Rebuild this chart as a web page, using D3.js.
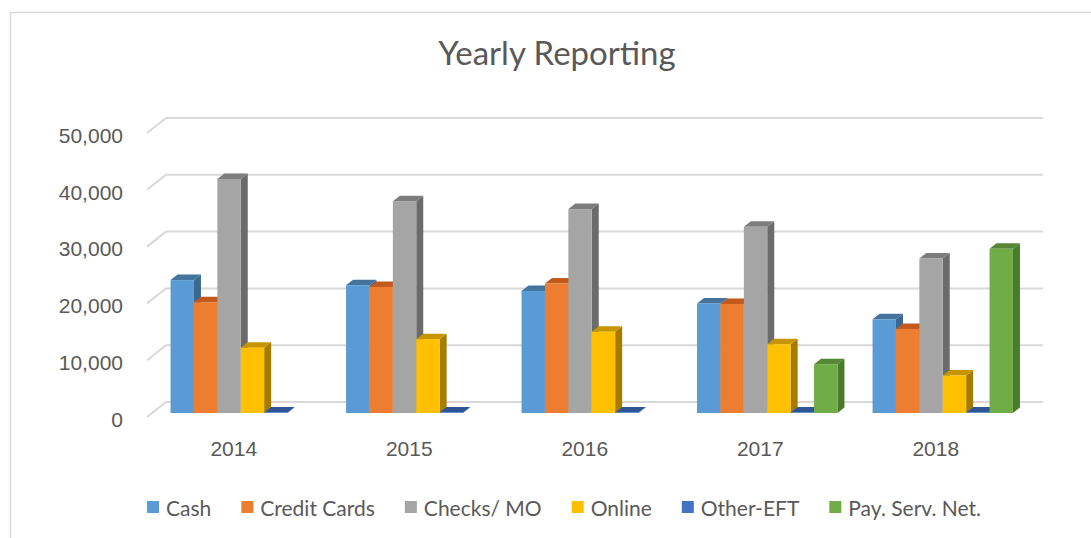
<!DOCTYPE html>
<html>
<head>
<meta charset="utf-8">
<script src="https://cdn.jsdelivr.net/npm/d3@7"></script>
<style>
  html, body { margin: 0; padding: 0; background: #fff; }
  svg { display: block; font-family: Lato, "Open Sans", sans-serif; }
</style>
</head>
<body>
<svg id="chart" width="1091" height="538"></svg>
<script>
// Payments received per year, by payment channel
const years = ["2014", "2015", "2016", "2017", "2018"];
const seriesNames = ["Cash", "Credit Cards", "Checks/ MO", "Online", "Other-EFT", "Pay. Serv. Net."];
const cash        = [23400, 22500, 21500, 19300, 16500];
const creditCards = [19500, 22200, 22800, 19200, 14800];
const checksMO    = [41200, 37300, 35900, 32800, 27200];
const online      = [11500, 13000, 14300, 12100, 6600];
const otherEFT    = [100, 100, 100, 100, 100];
const payServNet  = [null, null, null, 8600, 28900];
const yTicks      = [0, 10000, 20000, 30000, 40000, 50000];

const seriesValues = [cash, creditCards, checksMO, online, otherEFT, payServNet];

// front / top / side shades for each series
const faceColors = [
  { front: "#5b9bd5", top: "#44739e", side: "#3a6890" },
  { front: "#ed7d31", top: "#c25a1c", side: "#b0531c" },
  { front: "#a5a5a5", top: "#7d7d7d", side: "#6b6b6b" },
  { front: "#ffc000", top: "#c79500", side: "#a67c00" },
  { front: "#4472c4", top: "#2f5597", side: "#2b4e8c" },
  { front: "#70ad47", top: "#558735", side: "#4a7a2c" }
];

const svg = d3.select("#chart");
const textColor = "#595959";
const gridColor = "#d9d9d9";

// chart frame
svg.append("path")
  .attr("d", "M10.5,545 L10.5,12.5 L1100,12.5")
  .attr("fill", "none")
  .attr("stroke", gridColor)
  .attr("stroke-width", 1.5);

// title
svg.append("text")
  .attr("x", 557).attr("y", 57)
  .attr("text-anchor", "middle")
  .attr("dominant-baseline", "middle")
  .attr("font-size", 33)
  .attr("font-weight", 400)
  .attr("fill", textColor)
  .text("Yearly Reporting");

// scales: bar plane, back wall and front edge of the floor
const x = d3.scaleBand().domain(years).range([153, 1030.5]).padding(0);
const xs = d3.scaleBand().domain(seriesNames).range([0, x.bandwidth()])
  .paddingInner(0).paddingOuter(0.75);
const y = d3.scaleLinear().domain([0, 50000]).range([413, 129]);
const yBack = d3.scaleLinear().domain([0, 50000]).range([402, 118]);
const yFront = d3.scaleLinear().domain([0, 50000]).range([417, 133]);
const wallLeft = 166, wallRight = 1043, floorLeft = 147;
const DX = 7, DY = 5.5;

// gridlines: back wall plus side-wall stubs
const grid = svg.append("g").attr("stroke", gridColor).attr("stroke-width", 2).attr("fill", "none");
grid.selectAll("path").data(yTicks).join("path")
  .attr("d", v => `M${floorLeft},${yFront(v)} L${wallLeft},${yBack(v)} L${wallRight},${yBack(v)}`);

// y axis labels
const yAxis = svg.append("g")
  .attr("transform", "translate(126,2.5)")
  .call(d3.axisLeft(yFront).tickValues(yTicks).tickFormat(d3.format(",")).tickSize(0).tickPadding(3));
yAxis.select(".domain").remove();
yAxis.selectAll("text")
  .attr("font-family", null)
  .attr("font-size", 21)
  .attr("fill", textColor);

// x axis labels
const xAxis = svg.append("g")
  .attr("transform", "translate(-7,449)")
  .call(d3.axisBottom(x).tickSize(0).tickPadding(0));
xAxis.select(".domain").remove();
xAxis.selectAll("text")
  .attr("y", 0).attr("dy", "0.35em")
  .attr("font-family", null)
  .attr("font-size", 21)
  .attr("fill", textColor);

// 3-D columns
const bars = [];
years.forEach((yr, i) => {
  seriesNames.forEach((s, j) => {
    const v = seriesValues[j][i];
    if (v == null) return;
    bars.push({ yr, s, j, v });
  });
});

const barG = svg.append("g");
const bar = barG.selectAll("g.bar").data(bars).join("g").attr("class", "bar");

function pts(arr) { return arr.map(p => p.join(",")).join(" "); }

bar.each(function (d) {
  const g = d3.select(this);
  const x0 = x(d.yr) + xs(d.s);
  const x1 = x0 + xs.bandwidth();
  const yt = y(d.v), yb = y(0);
  const c = faceColors[d.j];
  // right side
  g.append("polygon")
    .attr("points", pts([[x1, yt], [x1 + DX, yt - DY], [x1 + DX, yb - DY], [x1, yb]]))
    .attr("fill", c.side);
  // top
  g.append("polygon")
    .attr("points", pts([[x0, yt], [x0 + DX, yt - DY], [x1 + DX, yt - DY], [x1, yt]]))
    .attr("fill", c.top);
  // front
  g.append("rect")
    .attr("x", x0).attr("y", yt)
    .attr("width", xs.bandwidth()).attr("height", Math.max(0, yb - yt))
    .attr("fill", c.front);
});

// legend
const legend = svg.append("g").attr("transform", "translate(0,507)");
const items = legend.selectAll("g").data(seriesNames).join("g");
items.append("rect")
  .attr("x", 0).attr("y", -6)
  .attr("width", 12).attr("height", 12)
  .attr("fill", (d, i) => faceColors[i].front);
items.append("text")
  .attr("x", 19).attr("y", 0)
  .attr("dominant-baseline", "central")
  .attr("font-size", 21)
  .attr("fill", textColor)
  .text(d => d);
const widths = [];
items.each(function () {
  widths.push(19 + d3.select(this).select("text").node().getComputedTextLength());
});
const gap = 30;
const total = d3.sum(widths) + gap * (widths.length - 1);
let cursor = 564 - total / 2;
items.attr("transform", (d, i) => {
  const t = `translate(${cursor},0)`;
  cursor += widths[i] + gap;
  return t;
});
</script>
</body>
</html>
